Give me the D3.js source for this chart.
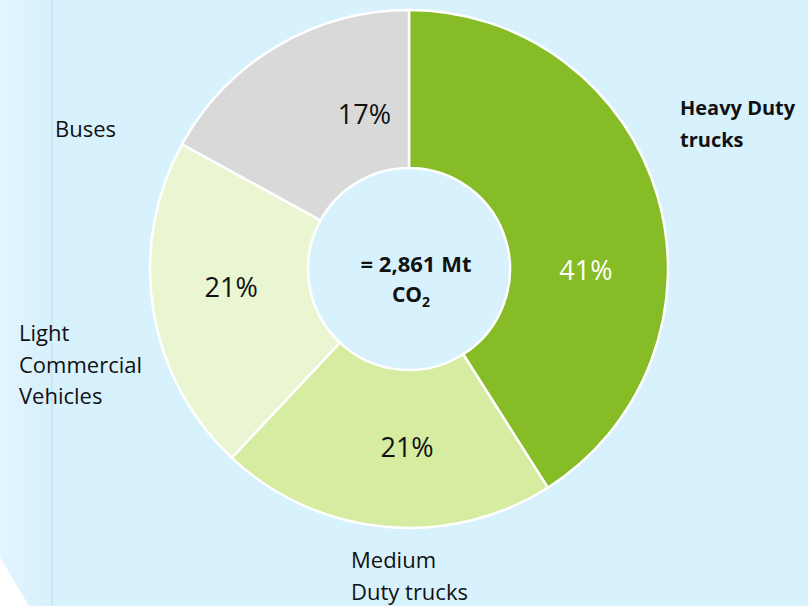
<!DOCTYPE html>
<html>
<head>
<meta charset="utf-8">
<script src="https://cdn.jsdelivr.net/npm/d3@7"></script>
<style>
  html, body { margin: 0; padding: 0; background: #d7f1fd; }
  svg { display: block; }
</style>
</head>
<body>
<svg id="chart" width="808" height="606"></svg>
<script>
// Road transport CO2 emissions by vehicle segment (share of total)
const categories = ["Heavy Duty trucks", "Medium Duty trucks", "Light Commercial Vehicles", "Buses"];
const shares = [41, 21, 21, 17];
const sliceColors = ["#86bc25", "#d5eca1", "#e9f6d1", "#d9d9d9"];
const percentColors = ["#ffffff", "#111111", "#111111", "#111111"];
const totalLabel = "= 2,861 Mt";

const W = 808, H = 606;
const svg = d3.select("#chart");

// background with a lighter strip along the left edge
const defs = svg.append("defs");
const grad = defs.append("linearGradient").attr("id", "leftStrip")
  .attr("x1", "0").attr("x2", "1").attr("y1", "0").attr("y2", "0");
grad.append("stop").attr("offset", "0%").attr("stop-color", "#e2f5fe");
grad.append("stop").attr("offset", "100%").attr("stop-color", "#d6f0fc");

svg.append("rect").attr("width", W).attr("height", H).attr("fill", "#d7f1fd");
svg.append("rect").attr("width", 52).attr("height", H).attr("fill", "url(#leftStrip)");
svg.append("rect").attr("x", 51).attr("y", 0).attr("width", 2).attr("height", H).attr("fill", "#c8e8f8");
svg.append("path").attr("d", `M0,557 L29,${H} L0,${H} Z`).attr("fill", "#ffffff");

const cx = 409, cy = 269, rOuter = 259, rInner = 101;
const g = svg.append("g").attr("transform", `translate(${cx},${cy})`);

const pie = d3.pie().sort(null).value(d => d)(shares);
const arc = d3.arc().innerRadius(rInner).outerRadius(rOuter);

g.selectAll("path.slice").data(pie).join("path")
  .attr("class", "slice")
  .attr("d", arc)
  .attr("fill", (d, i) => sliceColors[i])
  .attr("stroke", "#ffffff")
  .attr("stroke-width", 2.5);

// percent labels inside the ring, nudged from the slice centroid
const labelArc = d3.arc().innerRadius(180).outerRadius(180);
const labelNudge = [[4, 51], [15, -1], [0, -10], [47, 0]];
const fontFamily = "'Open Sans', 'Noto Sans', sans-serif";
g.selectAll("text.pct").data(pie).join("text")
  .attr("class", "pct")
  .attr("transform", (d, i) => {
    const [x, y] = labelArc.centroid(d);
    return `translate(${x + labelNudge[i][0]},${y + labelNudge[i][1]})`;
  })
  .attr("text-anchor", "middle")
  .attr("dy", "0.36em")
  .attr("font-family", fontFamily)
  .attr("font-size", 27)
  .attr("fill", (d, i) => percentColors[i])
  .text(d => d.data + "%");

// total in the hole
const center = g.append("g").attr("font-family", fontFamily).attr("font-weight", "bold").attr("fill", "#111");
center.append("text").attr("x", 7).attr("y", 3).attr("text-anchor", "middle")
  .attr("font-size", 22).text(totalLabel);
const co2 = center.append("text").attr("x", 2).attr("y", 33).attr("text-anchor", "middle").attr("font-size", 21);
co2.append("tspan").text("CO");
co2.append("tspan").attr("font-size", 14).attr("dy", 5).text("2");

// category labels around the ring
const labelLines = [
  { lines: ["Heavy Duty", "trucks"], x: 680, y: 115, size: 20, bold: true },
  { lines: ["Medium", "Duty trucks"], x: 351, y: 568, size: 22, bold: false },
  { lines: ["Light", "Commercial", "Vehicles"], x: 19, y: 341, size: 22, bold: false },
  { lines: ["Buses"], x: 55, y: 137, size: 22, bold: false }
];
const lab = svg.append("g").attr("font-family", fontFamily).attr("fill", "#111");
labelLines.forEach((d, i) => {
  const t = lab.append("text")
    .attr("x", d.x).attr("y", d.y)
    .attr("font-size", d.size)
    .attr("font-weight", d.bold ? "bold" : "normal")
    .attr("aria-label", categories[i]);
  d.lines.forEach((line, j) => {
    t.append("tspan").attr("x", d.x).attr("dy", j === 0 ? 0 : 31.5).text(line);
  });
});
</script>
</body>
</html>
